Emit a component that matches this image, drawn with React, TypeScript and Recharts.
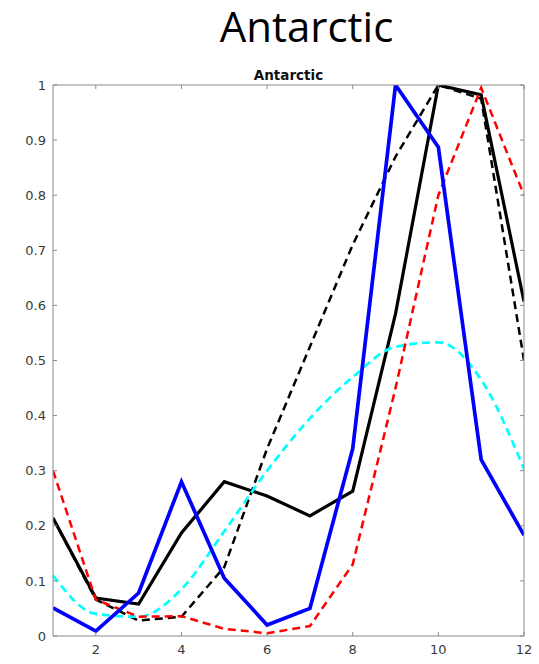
import React from "react";
import { LineChart, Line, XAxis, YAxis } from "recharts";

const months = [1, 2, 3, 4, 5, 6, 7, 8, 9, 10, 11, 12];
const blackSolid = [0.214, 0.069, 0.058, 0.187, 0.28, 0.254, 0.218, 0.263, 0.585, 1.0, 0.982, 0.607];
const blackDashed = [0.214, 0.066, 0.028, 0.035, 0.125, 0.34, 0.525, 0.71, 0.87, 1.0, 0.975, 0.5];
const cyanDashed = [0.11, 0.04, 0.035, 0.085, 0.19, 0.3, 0.395, 0.47, 0.525, 0.533, 0.465, 0.303];
const redDashed = [0.3, 0.066, 0.035, 0.036, 0.013, 0.005, 0.018, 0.13, 0.45, 0.8, 0.995, 0.8];
const blueSolid = [0.051, 0.009, 0.078, 0.28, 0.105, 0.02, 0.05, 0.34, 1.0, 0.887, 0.32, 0.183];

const xTicks = [2, 4, 6, 8, 10, 12];
const yTicks = [0, 0.1, 0.2, 0.3, 0.4, 0.5, 0.6, 0.7, 0.8, 0.9, 1];

const mainTitle = "Antarctic";
const axesTitle = "Antarctic";

const data = months.map((m, i) => ({
  month: m,
  bs: blackSolid[i],
  bd: blackDashed[i],
  cy: cyanDashed[i],
  rd: redDashed[i],
  bl: blueSolid[i],
}));

const AXIS = "#8a8a8a";
const tickFont = { fontFamily: "DejaVu Sans", fontSize: 13, fill: "#3a3a3a" };

export default function App() {
  return (
    <div style={{ position: "absolute", left: 0, top: 0, width: 539, height: 664 }}>
      <LineChart
        width={539}
        height={664}
        data={data}
        margin={{ top: 84, right: 14, bottom: 0, left: 0 }}
      >
        <XAxis
          xAxisId="b"
          dataKey="month"
          type="number"
          domain={[1, 12]}
          ticks={xTicks}
          interval={0}
          height={28}
          tickSize={-4}
          tickMargin={13}
          stroke={AXIS}
          tick={tickFont}
          allowDataOverflow
        />
        <XAxis
          xAxisId="t"
          orientation="top"
          dataKey="month"
          type="number"
          domain={[1, 12]}
          ticks={xTicks}
          interval={0}
          height={1}
          tickSize={-4}
          tickFormatter={() => ""}
          stroke={AXIS}
          allowDataOverflow
        />
        <YAxis
          yAxisId="l"
          type="number"
          domain={[0, 1]}
          ticks={yTicks}
          interval={0}
          width={53}
          tickSize={-4}
          tickMargin={11}
          stroke={AXIS}
          tick={tickFont}
          allowDataOverflow
        />
        <YAxis
          yAxisId="r"
          orientation="right"
          type="number"
          domain={[0, 1]}
          ticks={yTicks}
          interval={0}
          width={1}
          tickSize={-4}
          tickFormatter={() => ""}
          stroke={AXIS}
          allowDataOverflow
        />
        <Line xAxisId="b" yAxisId="l" type="linear" dataKey="bs" stroke="#000000" strokeWidth={3.2} dot={false} isAnimationActive={false} />
        <Line xAxisId="b" yAxisId="l" type="linear" dataKey="bd" stroke="#000000" strokeWidth={2.5} strokeDasharray="8 5" dot={false} isAnimationActive={false} />
        <Line xAxisId="b" yAxisId="l" type="monotone" dataKey="cy" stroke="#00ffff" strokeWidth={2.7} strokeDasharray="8 5" dot={false} isAnimationActive={false} />
        <Line xAxisId="b" yAxisId="l" type="linear" dataKey="rd" stroke="#ff0000" strokeWidth={2.5} strokeDasharray="8 5" dot={false} isAnimationActive={false} />
        <Line xAxisId="b" yAxisId="l" type="linear" dataKey="bl" stroke="#0000ff" strokeWidth={3.7} dot={false} isAnimationActive={false} />
      </LineChart>
      <svg
        width={539}
        height={664}
        style={{ position: "absolute", left: 0, top: 0, pointerEvents: "none" }}
      >
        <text x={306.5} y={42} textAnchor="middle" fontFamily="Open Sans" fontSize={42} fill="#000">
          {mainTitle}
        </text>
        <text x={288.5} y={80} textAnchor="middle" fontFamily="DejaVu Sans" fontWeight="bold" fontSize={13.5} fill="#111">
          {axesTitle}
        </text>
      </svg>
    </div>
  );
}
